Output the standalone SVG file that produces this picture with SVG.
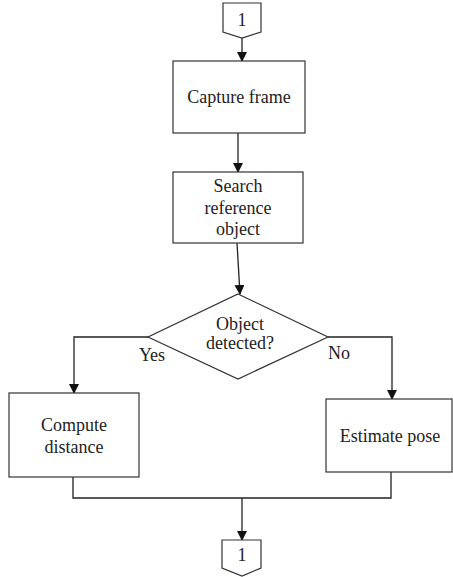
<svg xmlns="http://www.w3.org/2000/svg" width="453" height="577" viewBox="0 0 453 577">
<style>
.s{fill:#fff;stroke:#333;stroke-width:1.2}
.c{fill:none;stroke:#222;stroke-width:1.3}
.t{font-family:'Liberation Serif','Times New Roman',serif;font-size:18px;fill:#222;text-anchor:middle}
</style>
<defs>
<marker id="a" markerWidth="10" markerHeight="10" refX="9" refY="5" orient="auto" markerUnits="userSpaceOnUse">
<path d="M0,0 L10,5 L0,10 z" fill="#111"/>
</marker>
</defs>
<rect width="453" height="577" fill="#fff"/>
<g id="connectors">
<line class="c" x1="242" y1="38" x2="242" y2="61" marker-end="url(#a)"/>
<line class="c" x1="238" y1="133" x2="238" y2="172" marker-end="url(#a)"/>
<line class="c" x1="237" y1="243" x2="240" y2="294" marker-end="url(#a)"/>
<polyline class="c" points="148,337 74,337 74,393" marker-end="url(#a)"/>
<polyline class="c" points="328,337 392,337 392,399" marker-end="url(#a)"/>
<polyline class="c" points="73,477 73,498 391,498 391,472"/>
<line class="c" x1="242" y1="498" x2="242" y2="540" marker-end="url(#a)"/>
<text class="t" x="152" y="361">Yes</text>
<text class="t" x="339" y="359">No</text>
</g>
<g id="start">
<polygon class="s" points="223,3 261,3 261,32 242,38 223,32"/>
<text class="t" x="242" y="26">1</text>
</g>
<g id="capture">
<rect class="s" x="173" y="61" width="132" height="72"/>
<text class="t" x="239" y="103">Capture frame</text>
</g>
<g id="search">
<rect class="s" x="173" y="172" width="130" height="71"/>
<text class="t" x="238" y="192">Search</text>
<text class="t" x="238" y="214">reference</text>
<text class="t" x="238" y="235">object</text>
</g>
<g id="decision">
<polygon class="s" points="238,294 328,337 238,379 148,337"/>
<text class="t" x="240" y="330">Object</text>
<text class="t" x="240" y="349">detected?</text>
</g>
<g id="compute">
<rect class="s" x="9" y="393" width="130" height="84"/>
<text class="t" x="74" y="431">Compute</text>
<text class="t" x="74" y="453">distance</text>
</g>
<g id="estimate">
<rect class="s" x="326" y="399" width="126" height="73"/>
<text class="t" x="390" y="442">Estimate pose</text>
</g>
<g id="end">
<polygon class="s" points="222,540 261,540 261,568 242,576 222,568"/>
<text class="t" x="242" y="561">1</text>
</g>
</svg>
